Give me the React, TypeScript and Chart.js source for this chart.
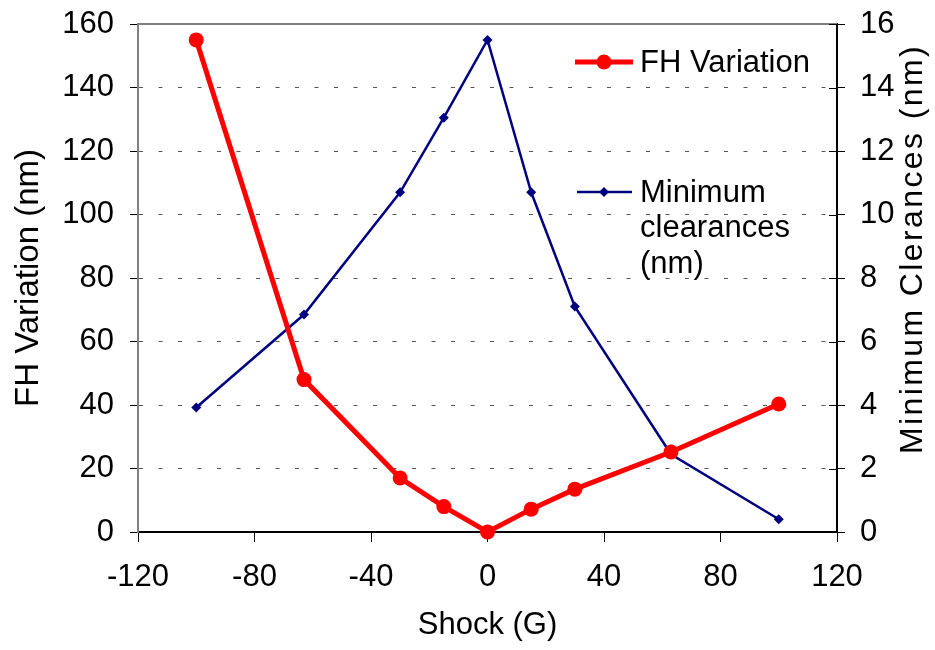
import React, { useEffect, useRef } from 'react';
import { Chart, registerables } from 'chart.js';

Chart.register(...registerables);

// ---- Data ----
const shockG = [-100, -63, -30, -15, 0, 15, 30, 63, 100];
const fhVariation = [155, 48, 17, 8, 0, 7.2, 13.5, 25.2, 40.3];
const minClearance = [3.92, 6.85, 10.7, 13.05, 15.5, 10.7, 7.1, 2.45, 0.4];

const seriesFH = 'FH Variation';
const seriesMC = 'Minimum clearances (nm)';
const seriesMCLegendLines = ['Minimum', 'clearances', '(nm)'];

const xTitle = 'Shock (G)';
const yLeftTitle = 'FH Variation (nm)';
const yRightTitle = 'Minimum Clerances (nm)';

const xRange = [-120, 120];
const xStep = 40;
const yLeftRange = [0, 160];
const yLeftStep = 20;
const yRightRange = [0, 16];
const yRightStep = 2;

const FONT = '"Liberation Sans", Arial, Helvetica, sans-serif';
const RED = '#FF0000';
const NAVY = '#000080';

const decorPlugin = {
  id: 'decor',
  beforeDatasetsDraw(chart: any) {
    const { ctx, chartArea } = chart;
    ctx.save();
    // top border of plot area
    ctx.strokeStyle = '#808080';
    ctx.lineWidth = 2;
    ctx.beginPath();
    ctx.moveTo(chartArea.left, chartArea.top);
    ctx.lineTo(chartArea.right, chartArea.top);
    ctx.stroke();
    // inward part of right-axis tick marks
    const y1 = chart.scales.y1;
    ctx.strokeStyle = '#000';
    ctx.lineWidth = 1;
    y1.ticks.forEach((t: any) => {
      const py = Math.round(y1.getPixelForValue(t.value)) + 0.5;
      ctx.beginPath();
      ctx.moveTo(chartArea.right - 8, py);
      ctx.lineTo(chartArea.right, py);
      ctx.stroke();
    });
    ctx.restore();
  },
  afterDraw(chart: any) {
    const { ctx, chartArea } = chart;
    ctx.save();
    // Right axis title (reads bottom-to-top)
    ctx.translate(913, 249);
    ctx.rotate(-Math.PI / 2);
    ctx.font = `32px ${FONT}`;
    (ctx as any).letterSpacing = '2.4px';
    ctx.fillStyle = '#000';
    ctx.textAlign = 'center';
    ctx.textBaseline = 'middle';
    ctx.fillText(yRightTitle, 0, 0);
    ctx.restore();

    // Legend
    ctx.save();
    const lx = chartArea.right - 262;
    const ds0 = chart.data.datasets[0];
    const ds1 = chart.data.datasets[1];
    ctx.font = `31px ${FONT}`;
    ctx.fillStyle = '#000';
    ctx.textAlign = 'left';
    ctx.textBaseline = 'middle';
    // FH Variation
    let ly = 62;
    ctx.strokeStyle = ds0.borderColor;
    ctx.lineWidth = ds0.borderWidth;
    ctx.beginPath();
    ctx.moveTo(lx, ly);
    ctx.lineTo(lx + 58, ly);
    ctx.stroke();
    ctx.fillStyle = ds0.pointBackgroundColor;
    ctx.beginPath();
    ctx.arc(lx + 29, ly, ds0.pointRadius, 0, Math.PI * 2);
    ctx.fill();
    ctx.fillStyle = '#000';
    ctx.fillText(ds0.label, lx + 65, ly + 1);
    // Minimum clearances
    ly = 192;
    ctx.strokeStyle = ds1.borderColor;
    ctx.lineWidth = ds1.borderWidth;
    ctx.beginPath();
    ctx.moveTo(lx + 2, ly);
    ctx.lineTo(lx + 57, ly);
    ctx.stroke();
    ctx.fillStyle = ds1.pointBackgroundColor;
    const r = ds1.pointRadius;
    ctx.beginPath();
    ctx.moveTo(lx + 29, ly - r);
    ctx.lineTo(lx + 29 + r, ly);
    ctx.lineTo(lx + 29, ly + r);
    ctx.lineTo(lx + 29 - r, ly);
    ctx.closePath();
    ctx.fill();
    ctx.fillStyle = '#000';
    seriesMCLegendLines.forEach((line, i) => {
      ctx.fillText(line, lx + 65, ly + 1 + i * 35.5);
    });
    ctx.restore();
  },
};

export default function App() {
  const canvasRef = useRef<HTMLCanvasElement | null>(null);

  useEffect(() => {
    document.body.style.margin = '0';
    const canvas = canvasRef.current;
    if (!canvas) return;
    Chart.defaults.font.family = FONT;
    Chart.defaults.color = '#000';

    const chart = new Chart(canvas, {
      type: 'line',
      data: {
        datasets: [
          {
            label: seriesFH,
            data: shockG.map((x, i) => ({ x, y: fhVariation[i] })),
            yAxisID: 'y',
            borderColor: RED,
            backgroundColor: RED,
            pointBackgroundColor: RED,
            pointBorderColor: RED,
            borderWidth: 5,
            pointRadius: 7.5,
            pointBorderWidth: 0,
            pointStyle: 'circle',
            tension: 0,
            clip: false as any,
          },
          {
            label: seriesMC,
            data: shockG.map((x, i) => ({ x, y: minClearance[i] })),
            yAxisID: 'y1',
            borderColor: NAVY,
            backgroundColor: NAVY,
            pointBackgroundColor: NAVY,
            pointBorderColor: NAVY,
            borderWidth: 2.5,
            pointRadius: 5,
            pointBorderWidth: 0,
            pointStyle: 'rectRot',
            tension: 0,
            clip: false as any,
          },
        ],
      },
      plugins: [decorPlugin],
      options: {
        responsive: false,
        animation: false,
        layout: { padding: { top: 24, left: 0, right: 0, bottom: 0 } },
        plugins: {
          legend: { display: false },
          tooltip: { enabled: false },
        },
        scales: {
          x: {
            type: 'linear',
            position: 'bottom',
            min: xRange[0],
            max: xRange[1],
            ticks: {
              stepSize: xStep,
              font: { size: 31 },
              padding: 17,
              color: '#000',
              maxRotation: 0,
            },
            grid: {
              display: true,
              drawOnChartArea: false,
              tickLength: 10,
              tickColor: '#000',
              lineWidth: 1,
            },
            border: { display: true, color: '#000', width: 2 },
            title: {
              display: true,
              text: xTitle,
              font: { size: 31 },
              color: '#000',
              padding: { top: 0, bottom: 6 },
            },
            afterFit: (scale: any) => {
              scale.height = 118;
              scale.paddingLeft = 0;
              scale.paddingRight = 0;
            },
          },
          y: {
            type: 'linear',
            position: 'left',
            min: yLeftRange[0],
            max: yLeftRange[1],
            ticks: {
              stepSize: yLeftStep,
              font: { size: 31 },
              padding: 16,
              color: '#000',
            },
            grid: {
              display: true,
              drawOnChartArea: true,
              tickLength: 8,
              color: (ctx: any) =>
                ctx.tick && (ctx.tick.value === yLeftRange[0] || ctx.tick.value === yLeftRange[1])
                  ? 'rgba(0,0,0,0)'
                  : '#555',
              tickColor: '#000',
              lineWidth: 1,
            },
            border: { display: true, color: '#808080', width: 2, dash: [4, 15.5] },
            title: {
              display: true,
              text: yLeftTitle,
              font: { size: 33 },
              color: '#000',
              padding: { top: 9, bottom: 0 },
            },
            afterFit: (scale: any) => {
              scale.width = 138;
              scale.paddingTop = 0;
              scale.paddingBottom = 0;
            },
          },
          y1: {
            type: 'linear',
            position: 'right',
            min: yRightRange[0],
            max: yRightRange[1],
            ticks: {
              stepSize: yRightStep,
              font: { size: 31 },
              padding: 15,
              color: '#000',
            },
            grid: {
              display: true,
              drawOnChartArea: false,
              tickLength: 8,
              tickColor: '#000',
              lineWidth: 1,
            },
            border: { display: true, color: '#000', width: 2 },
            title: { display: false },
            afterFit: (scale: any) => {
              scale.width = 98;
              scale.paddingTop = 0;
              scale.paddingBottom = 0;
            },
          },
        },
      } as any,
    });

    return () => {
      chart.destroy();
    };
  }, []);

  return (
    <div style={{ width: 935, height: 650, background: '#fff' }}>
      <canvas ref={canvasRef} width={935} height={650} style={{ display: 'block' }} />
    </div>
  );
}
